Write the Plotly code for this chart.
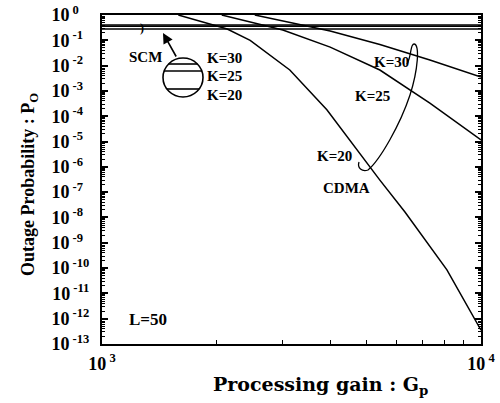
import plotly.graph_objects as go

# ---- data ----
G_K20 = [1590, 2140, 2460, 2830, 3130, 3920, 5410, 6300, 8130, 10000]
P_K20 = [1.0, 0.28, 0.10, 0.02, 6.7e-3, 1.8e-4, 3e-7, 1.65e-8, 8.5e-11, 3.5e-13]
G_K25 = [2070, 3000, 4000, 5410, 7330, 10000]
P_K25 = [1.0, 0.255, 0.054, 6.7e-3, 3.3e-4, 1.15e-5]
G_K30 = [2530, 3270, 4000, 5410, 7330, 10000]
P_K30 = [1.0, 0.44, 0.233, 0.068, 0.0167, 3.55e-3]
G_SCM = [1000, 10000]
P_SCM_K30 = [0.40, 0.40]
P_SCM_K25 = [0.36, 0.36]
P_SCM_K20 = [0.28, 0.28]

y_exps = list(range(0, -14, -1))
y_tickvals = [10.0 ** e for e in y_exps]
def ylab(e):
    if e == 0:
        pad = "0\u2004\u2007"
    elif e > -10:
        pad = "%d\u2007" % e
    else:
        pad = "%d" % e
    return "10<sup>\u00a0" + pad + "</sup>"
y_ticktext = [ylab(e) for e in y_exps]
x_tickvals = [1000, 10000]
x_ticktext = ["10<sup>\u00a03</sup>", "10<sup>\u00a04</sup>"]
y_minor = [m * 10.0 ** e for e in range(-13, 0) for m in range(2, 10)]
x_minor = [m * 1000 for m in range(2, 10)]

FONT = "Liberation Serif"
line = dict(color="black", width=1.5)

fig = go.Figure()
for g, p in [(G_SCM, P_SCM_K30), (G_SCM, P_SCM_K25), (G_SCM, P_SCM_K20),
             (G_K20, P_K20), (G_K25, P_K25), (G_K30, P_K30)]:
    fig.add_trace(go.Scatter(x=g, y=p, mode="lines", line=line,
                             showlegend=False, hoverinfo="skip", cliponaxis=True))

L, R, T, B = 102, 481, 15, 344
W, H = 500, 403
def px(x):
    return (x - L) / (R - L)
def py(y):
    return (B - y) / (B - T)

annots = []
def txt(x, y, s, size=15, family=FONT, **kw):
    annots.append(dict(x=px(x), y=py(y), xref="paper", yref="paper", text=s,
                       xanchor="center", yanchor="middle",
                       showarrow=False, font=dict(family=family, size=size, color="black",
                                                  weight="bold"), **kw))

txt(145, 57, "SCM")
txt(224, 58, "K=30")
txt(224, 76, "K=25")
txt(224, 95, "K=20")
txt(391, 62, "K=30")
txt(372, 96, "K=25")
txt(334, 156, "K=20")
txt(346, 188, "CDMA")
txt(148, 319, "L=50", size=17)
txt(142, 28, ")", size=12)
# axis titles
txt(29, 185, "Outage Probability : P<sub>O</sub>", size=18, textangle=-90)
txt(320, 385, "Processing gain : G<sub>p</sub>", size=19, family="DejaVu Serif")

# arrow
annots.append(dict(x=px(163), y=py(33), xref="paper", yref="paper", text="",
                   showarrow=True, ax=14, ay=25, arrowhead=2, arrowsize=1.3,
                   arrowwidth=1.6, arrowcolor="black"))

shapes = []
# magnifier circle
shapes.append(dict(type="circle", xref="paper", yref="paper",
                   x0=px(163), x1=px(203), y0=py(97), y1=py(58),
                   line=dict(color="black", width=1.6)))
for yy, xa, xb in [(64, 168.6, 197.4), (71, 164, 202), (89, 167, 199)]:
    shapes.append(dict(type="line", xref="paper", yref="paper",
                       x0=px(xa), x1=px(xb), y0=py(yy), y1=py(yy),
                       line=dict(color="black", width=1.6)))

# loop around CDMA curves
pts = [(407, 64), (412, 55), (410, 44), (414, 44), (420, 44), (418, 70), (410, 95),
       (400, 125), (380, 160), (368, 170), (362, 172), (357, 168), (359, 162)]
path = "M %f %f" % (px(pts[0][0]), py(pts[0][1]))
for i in range(1, len(pts), 3):
    seg = pts[i:i + 3]
    path += " C " + " ".join("%f %f" % (px(a), py(b)) for a, b in seg)
shapes.append(dict(type="path", xref="paper", yref="paper", path=path,
                   line=dict(color="black", width=1.3)))

tickfont = dict(family=FONT, size=18, color="black", weight="bold")
fig.update_layout(
    width=W, height=H,
    margin=dict(l=L, r=W - R, t=T, b=H - B, pad=0, autoexpand=False),
    paper_bgcolor="white", plot_bgcolor="white",
    annotations=annots, shapes=shapes,
    xaxis=dict(type="log", range=[3, 4], tickmode="array", tickvals=x_tickvals,
               ticktext=x_ticktext, ticks="inside", ticklen=5, tickwidth=1.5,
               tickcolor="black", showline=True, linewidth=2, linecolor="black",
               mirror=True, showgrid=False, zeroline=False, tickfont=tickfont,
               ticklabelstandoff=2, automargin=False,
               minor=dict(tickmode="array", tickvals=x_minor, ticks="inside",
                          ticklen=4, tickwidth=1.2, tickcolor="black", showgrid=False)),
    yaxis=dict(type="log", range=[-13, 0], tickmode="array", tickvals=y_tickvals,
               ticktext=y_ticktext, ticks="inside", ticklen=6, tickwidth=1.5,
               tickcolor="black", showline=True, linewidth=2, linecolor="black",
               mirror="ticks", showgrid=False, zeroline=False, tickfont=tickfont,
               ticklabelstandoff=7, automargin=False,
               minor=dict(tickmode="array", tickvals=y_minor, ticks="inside",
                          ticklen=3, tickwidth=1, tickcolor="black", showgrid=False)),
)
fig.write_html("out.html", config={"displayModeBar": False},
               post_script="document.body.style.margin='0px';"
                           "document.body.style.overflow='hidden';")
